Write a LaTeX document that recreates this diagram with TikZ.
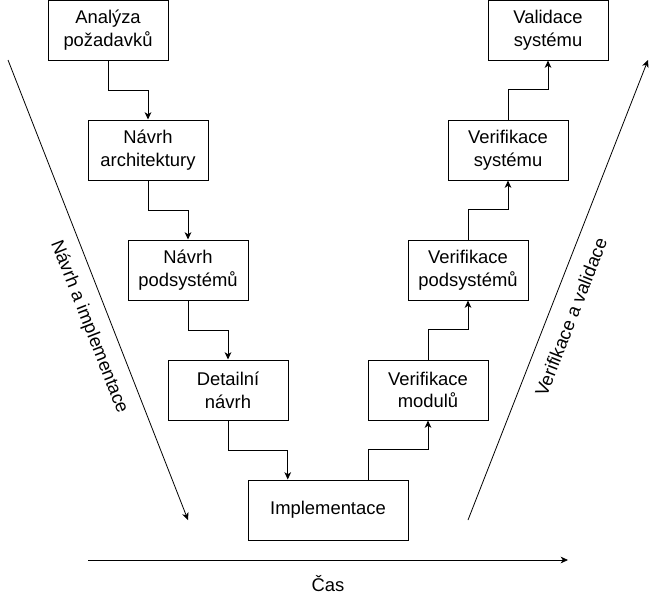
\documentclass[tikz,border=0pt]{standalone}
\usepackage{fontspec}
\setmainfont{Liberation Sans}
\usetikzlibrary{arrows.meta,calc}
\begin{document}
\begin{tikzpicture}[x=0.75pt,y=-0.75pt,
  font=\fontsize{13.8pt}{17pt}\selectfont,
  box/.style={draw,line width=0.75pt,minimum width=90pt,minimum height=45pt,inner sep=0pt,align=center},
  conn/.style={draw,line width=0.75pt,-{Stealth[length=5.5pt,width=5pt,inset=1.6pt]}},
  axis/.style={draw,line width=0.6pt,-{Stealth[length=5.5pt,width=5pt,inset=1.6pt]}}]
\useasboundingbox (0,0) rectangle (657,601);
\node[box] (ana) at (108,30) {Analýza\\požadavků};
\node[box] (na) at (148,150) {Návrh\\architektury};
\node[box] (np) at (188,270) {Návrh\\podsystémů};
\node[box] (dn) at (228,390) {Detailní\\návrh};
\node[box,minimum width=120pt] (impl) at (328,510) {Implementace};
\node[box] (vm) at (428,390) {Verifikace\\modulů};
\node[box] (vp) at (468,270) {Verifikace\\podsystémů};
\node[box] (vs) at (508,150) {Verifikace\\systému};
\node[box] (val) at (548,30) {Validace\\systému};

\draw[conn] (ana.south) -- ++(0,30) -| (na.north);
\draw[conn] (na.south) -- ++(0,30) -| (np.north);
\draw[conn] (np.south) -- ++(0,30) -| (dn.north);
\draw[conn] (dn.south) -- ++(0,30) -| ($(impl.north west)!0.5!(impl.north)$);
\draw[conn] ($(impl.north)!0.5!(impl.north east)$) -- ++(0,-30) -| (vm.south);
\draw[conn] (vm.north) -- ++(0,-30) -| (vp.south);
\draw[conn] (vp.north) -- ++(0,-30) -| (vs.south);
\draw[conn] (vs.north) -- ++(0,-30) -| (val.south);

\coordinate (l1) at (8,60);
\coordinate (l2) at (188,520);
\coordinate (r1) at (468,520);
\coordinate (r2) at (648,60);
\coordinate (t1) at (88,560);
\coordinate (t2) at (568,560);
\draw[axis] (l1) -- (l2);
\draw[axis] (r1) -- (r2);
\draw[axis] (t1) -- (t2);

\node (cas) at (328,584) {Čas};
\node[rotate=-68.6] (lnav) at (89,327) {Návrh a implementace};
\node[rotate=68.6] (lver) at (571,317) {Verifikace a validace};
\end{tikzpicture}
\end{document}
